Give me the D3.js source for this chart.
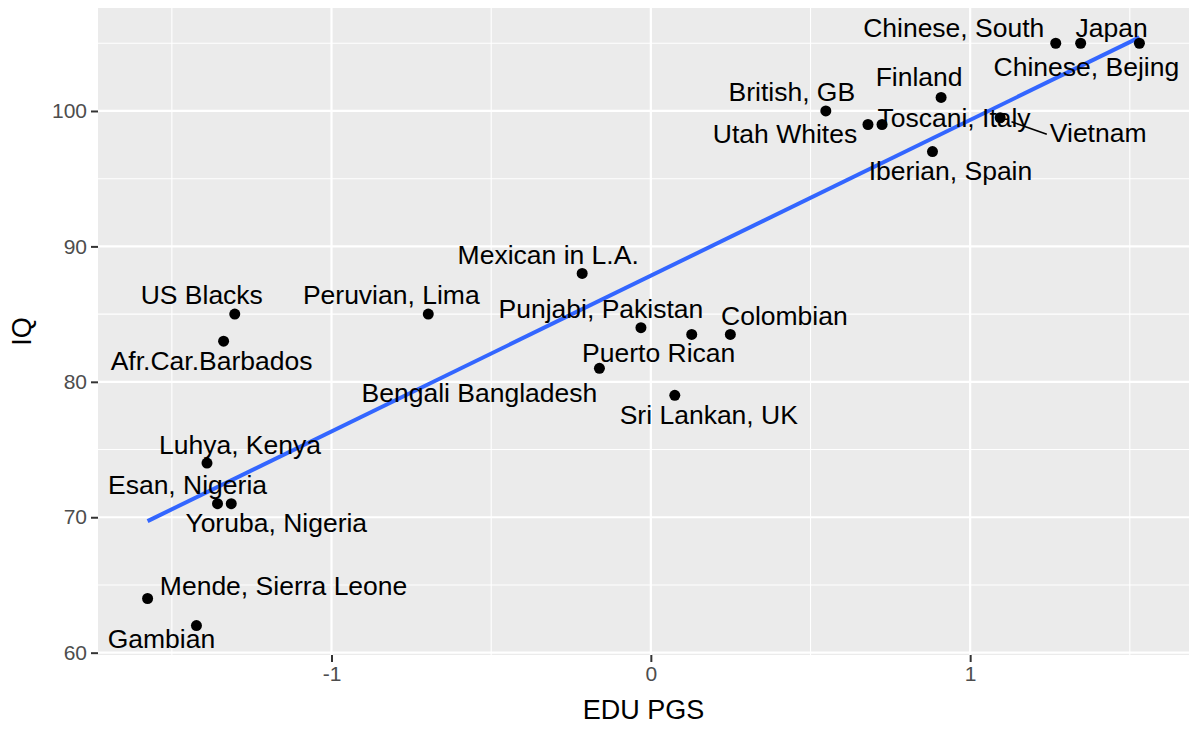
<!DOCTYPE html>
<html>
<head>
<meta charset="utf-8">
<script src="https://cdn.jsdelivr.net/npm/d3@7"></script>
<style>
  body { margin: 0; background: #fff; }
  svg { display: block; font-family: "Liberation Sans", Arial, sans-serif; }
</style>
</head>
<body>
<div id="chart"></div>
<script>
"use strict";

// population labels
var groups = [
  "Chinese, South", "Japan", "Chinese, Bejing", "Finland", "British, GB",
  "Utah Whites", "Toscani, Italy", "Vietnam", "Iberian, Spain",
  "Mexican in L.A.", "Peruvian, Lima", "Punjabi, Pakistan", "Puerto Rican",
  "Colombian", "Bengali Bangladesh", "Sri Lankan, UK", "US Blacks",
  "Afr.Car.Barbados", "Luhya, Kenya", "Esan, Nigeria", "Yoruba, Nigeria",
  "Mende, Sierra Leone", "Gambian"
];
var eduPgs = [
  1.268, 1.346, 1.530, 0.909, 0.548,
  0.680, 0.724, 1.094, 0.882,
  -0.215, -0.697, -0.031, 0.128,
  0.249, -0.161, 0.075, -1.303,
  -1.338, -1.390, -1.357, -1.314,
  -1.576, -1.423
];
var iq = [
  105, 105, 105, 101, 100,
  99, 99, 99.5, 97,
  88, 85, 84, 83.5,
  83.5, 81, 79, 85,
  83, 74, 71, 71,
  64, 62
];
var xTicks = [-1, 0, 1];
var yTicks = [60, 70, 80, 90, 100];

// where ggrepel ended up putting each label (px offset of text centre/baseline from its point)
var labelOffsets = {
  "Chinese, South": [-102, -6], "Japan": [31, -6], "Chinese, Bejing": [-53, 33],
  "Finland": [-22, -11], "British, GB": [-34, -10], "Utah Whites": [-83, 18],
  "Toscani, Italy": [72, 2], "Vietnam": [98, 24], "Iberian, Spain": [18, 28],
  "Mexican in L.A.": [-34, -9], "Peruvian, Lima": [-37, -10],
  "Punjabi, Pakistan": [-40, -10], "Puerto Rican": [-33, 28],
  "Colombian": [54, -9], "Bengali Bangladesh": [-120, 34],
  "Sri Lankan, UK": [34, 29], "US Blacks": [-33, -10],
  "Afr.Car.Barbados": [-12, 29], "Luhya, Kenya": [33, -9],
  "Esan, Nigeria": [-30, -10], "Yoruba, Nigeria": [45, 28],
  "Mende, Sierra Leone": [136, -4], "Gambian": [-35, 22]
};
var segmentLabels = ["Vietnam"];

var W = 1193, H = 731;
var panel = { left: 98, right: 1189, top: 8, bottom: 655 };

var data = groups.map(function (g, i) { return { name: g, x: eduPgs[i], y: iq[i] }; });

// ordinary least squares, like geom_smooth(method = "lm")
var mx = d3.mean(data, function (d) { return d.x; });
var my = d3.mean(data, function (d) { return d.y; });
var sxy = d3.sum(data, function (d) { return (d.x - mx) * (d.y - my); });
var sxx = d3.sum(data, function (d) { return (d.x - mx) * (d.x - mx); });
var slope = sxy / sxx;
var intercept = my - slope * mx;
var xExt = d3.extent(data, function (d) { return d.x; });
var fitLine = xExt.map(function (v) { return { x: v, y: intercept + slope * v }; });

function expand(ext) {
  var pad = (ext[1] - ext[0]) * 0.05;
  return [ext[0] - pad, ext[1] + pad];
}
var yExt = d3.extent(data.map(function (d) { return d.y; }).concat(fitLine.map(function (d) { return d.y; })));

var x = d3.scaleLinear().domain(expand(xExt)).range([panel.left, panel.right]);
var y = d3.scaleLinear().domain(expand(yExt)).range([panel.bottom, panel.top]);

var svg = d3.select("#chart").append("svg").attr("width", W).attr("height", H);

svg.append("rect")
  .attr("x", panel.left).attr("y", panel.top)
  .attr("width", panel.right - panel.left).attr("height", panel.bottom - panel.top)
  .attr("fill", "#EBEBEB");

var grid = svg.append("g");
var xMinor = [-1.5, -0.5, 0.5, 1.5];
var yMinor = [65, 75, 85, 95, 105];
grid.selectAll(".xminor").data(xMinor).enter().append("line")
  .attr("x1", x).attr("x2", x).attr("y1", panel.top).attr("y2", panel.bottom)
  .attr("stroke", "#fff").attr("stroke-width", 1.1);
grid.selectAll(".yminor").data(yMinor).enter().append("line")
  .attr("y1", y).attr("y2", y).attr("x1", panel.left).attr("x2", panel.right)
  .attr("stroke", "#fff").attr("stroke-width", 1.1);
grid.selectAll(".xmajor").data(xTicks).enter().append("line")
  .attr("x1", x).attr("x2", x).attr("y1", panel.top).attr("y2", panel.bottom)
  .attr("stroke", "#fff").attr("stroke-width", 2.2);
grid.selectAll(".ymajor").data(yTicks).enter().append("line")
  .attr("y1", y).attr("y2", y).attr("x1", panel.left).attr("x2", panel.right)
  .attr("stroke", "#fff").attr("stroke-width", 2.2);

// axes
var xAxis = svg.append("g")
  .attr("transform", "translate(0," + panel.bottom + ")")
  .call(d3.axisBottom(x).tickValues(xTicks).tickSize(7).tickPadding(4).tickFormat(d3.format("d")));
var yAxis = svg.append("g")
  .attr("transform", "translate(" + panel.left + ",0)")
  .call(d3.axisLeft(y).tickValues(yTicks).tickSize(7).tickPadding(4));
[xAxis, yAxis].forEach(function (a) {
  a.select(".domain").remove();
  a.selectAll(".tick line").attr("stroke", "#333333").attr("stroke-width", 2);
  a.selectAll(".tick text").attr("fill", "#4D4D4D").style("font-size", "21px")
    .style("font-family", "Liberation Sans, Arial, sans-serif");
});
xAxis.selectAll(".tick text").text(function (d) { return d < 0 ? "-" + Math.abs(d) : d; });

// regression line
svg.append("path")
  .datum(fitLine)
  .attr("d", d3.line().x(function (d) { return x(d.x); }).y(function (d) { return y(d.y); }))
  .attr("stroke", "#3366FF").attr("stroke-width", 4).attr("fill", "none");

// points
svg.selectAll(".pt").data(data).enter().append("circle")
  .attr("cx", function (d) { return x(d.x); })
  .attr("cy", function (d) { return y(d.y); })
  .attr("r", 5.5).attr("fill", "#000");

// labels
var labels = svg.append("g");
data.forEach(function (d) {
  var off = labelOffsets[d.name];
  var px = x(d.x), py = y(d.y);
  var t = labels.append("text")
    .attr("x", px + off[0]).attr("y", py + off[1])
    .attr("text-anchor", "middle")
    .attr("fill", "#000")
    .style("font-size", "26.5px")
    .text(d.name);
  if (segmentLabels.indexOf(d.name) >= 0) {
    var bb = t.node().getBBox();
    var tx = bb.x - 3, ty = bb.y + bb.height * 0.55;
    var len = Math.hypot(tx - px, ty - py);
    var sx = px + (tx - px) * 12 / len, sy = py + (ty - py) * 12 / len;
    labels.append("line")
      .attr("x1", sx).attr("y1", sy).attr("x2", tx).attr("y2", ty)
      .attr("stroke", "#000").attr("stroke-width", 1.5);
  }
});

// axis titles
svg.append("text")
  .attr("x", (panel.left + panel.right) / 2).attr("y", 719)
  .attr("text-anchor", "middle").style("font-size", "27px").attr("fill", "#000")
  .text("EDU PGS");
svg.append("text")
  .attr("transform", "translate(31," + (panel.top + panel.bottom) / 2 + ") rotate(-90)")
  .attr("text-anchor", "middle").style("font-size", "27px").attr("fill", "#000")
  .text("IQ");
</script>
</body>
</html>
